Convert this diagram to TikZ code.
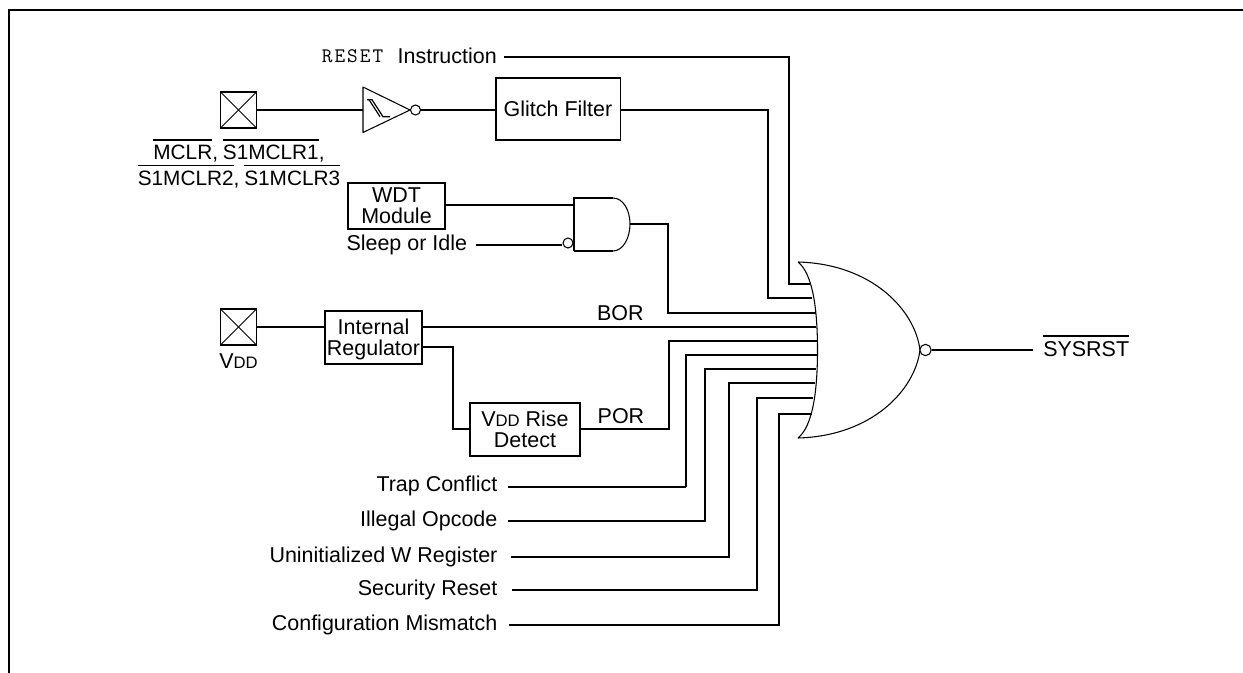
\documentclass[tikz,border=0pt]{standalone}
\usepackage{fontspec}
\setmainfont{Liberation Sans}
\usetikzlibrary{positioning, calc}

\newcommand{\barred}[1]{\vbox{\hrule height 0.9pt\kern 3.6pt\hbox{#1}}}
\newcommand{\vdd}{V{\fontsize{12.5pt}{12.5pt}\selectfont DD}}

\begin{document}
\begin{tikzpicture}[
    x=0.75pt, y=-0.75pt,
    every node/.style={font=\fontsize{16.1pt}{15.75pt}\selectfont, inner sep=0pt},
    wire/.style={line width=1.25pt, line join=miter},
    thinwire/.style={line width=0.9pt},
    gateline/.style={line width=0.8pt, line join=round},
    padbox/.style={draw, line width=1.25pt, minimum size=27pt, path picture={
        \draw[line width=0.6pt] (path picture bounding box.north west) -- (path picture bounding box.south east);
        \draw[line width=0.6pt] (path picture bounding box.north east) -- (path picture bounding box.south west);
    }},
    block/.style={draw, line width=1.25pt, align=center},
    bubble/.style={circle, draw, fill=white, line width=0.8pt, minimum size=7.5pt},
    padtext/.style={font=\fontsize{15.6pt}{15.75pt}\selectfont},
    sidetext/.style={anchor=east}
]
\useasboundingbox (0,0) rectangle (1243,673);

% page frame
\coordinate (frameR) at (1243,10);
\coordinate (frameC) at (8.5,10);
\coordinate (frameB) at (8.5,673);
\draw[line width=1.5pt] (frameR) -- (frameC) -- (frameB);

% pads and blocks
\node[padbox] (mclrpad) at (238.5,110) {};
\node[padbox] (vddpad) at (238.5,327) {};
\node[block, minimum width=93.5pt, minimum height=46.5pt, text depth=0pt] (glitch) at (558,109) {Glitch Filter};
\node[block, minimum width=72.5pt, minimum height=34.5pt] (wdt) at (396.5,206) {WDT\\Module};
\node[block, minimum width=72.5pt, minimum height=39.5pt, text depth=0pt] (regulator) at (373.5,337.5) {Internal\\Regulator};
\node[block, minimum width=82.5pt, minimum height=39.5pt] (rise) at (525,429.5) {\vdd{} Rise\\Detect};

% pad labels
\node[padtext] (mclrA) at (239,151) {\barred{MCLR},\hspace{-0.75pt} \barred{S1MCLR1},};
\node[padtext] (mclrB) at (239,176.5) {\barred{S1MCLR2},\hspace{-0.75pt} \barred{S1MCLR3}};
\node[below=5.5pt of vddpad] (vddtext) {\vdd};

% schmitt inverter
\coordinate (invA) at (363,87);
\coordinate (invB) at (363,132.5);
\coordinate (invC) at (410,110);
\coordinate (invin) at (363,110);
\draw[gateline] (invA) -- (invC) -- (invB) -- cycle;
\node[bubble] (invbub) at (415.5,110) {};
\draw[line width=0.9pt] (367,99.7) -- (372,99.7) -- (383,116.7) -- (390,116.7);
\draw[line width=0.9pt] (369,99.7) -- (380,116.7);

% and gate
\coordinate (andA) at (574,198);
\coordinate (andB) at (574,251);
\coordinate (andC) at (630,224);
\coordinate (andin) at (574,205);
\draw[wire] (andB) -- (574,198) -- (613,198);
\draw[wire] (574,251) -- (613,251);
\draw[gateline] (613,198) .. controls (623,198) and (630,210) .. (andC) .. controls (630,238) and (623,251) .. (613,251);
\node[bubble] (andbub) at (568,243) {};

% or gate
\coordinate (orA) at (798,262);
\coordinate (orB) at (798,438);
\coordinate (orC) at (920,350);
\draw[gateline] (orA) .. controls (872,264) and (915,310) .. (orC)
    .. controls (915,390) and (872,436) .. (orB)
    .. controls (813,426) and (817.5,390) .. (817.5,350)
    .. controls (817.5,310) and (813,274) .. (orA);
\node[bubble, minimum size=8.5pt] (orbub) at (925.5,350) {};

% or gate inputs
\coordinate (in1) at (810,284);
\coordinate (in2) at (812,298);
\coordinate (in3) at (816,313);
\coordinate (in4) at (816,327);
\coordinate (in5) at (818,341);
\coordinate (in6) at (817,355);
\coordinate (in7) at (816,369);
\coordinate (in8) at (815,383);
\coordinate (in9) at (813,398);
\coordinate (in10) at (812,414);

% side labels
\coordinate (rststart) at (504,57);
\node[sidetext, left=5.25pt of rststart, yshift=0.75pt] (rsttext) {Instruction};
\node[sidetext, left=10.5pt of rsttext, font=\fontsize{15.5pt}{15.75pt}\ttfamily] (rstname) {R\kern1.5pt E\kern1.5pt S\kern1.5pt E\kern1.5pt T};
\coordinate (sleepstart) at (476,245);
\node[sidetext, left=6.5pt of sleepstart] (sleep) {Sleep or Idle};
\coordinate (trapstart) at (508,487);
\coordinate (trapturn) at (686,487);
\node[sidetext, left=7.75pt of trapstart, yshift=0.75pt] (trap) {Trap Conflict};
\coordinate (opstart) at (508,521);
\node[sidetext, left=7.75pt of opstart] (opcode) {Illegal Opcode};
\coordinate (uninitstart) at (511,557);
\node[sidetext, left=10pt of uninitstart] (uninit) {Uninitialized W Register};
\coordinate (secstart) at (512,590);
\node[sidetext, left=10.75pt of secstart] (security) {Security Reset};
\coordinate (cfgstart) at (509,625);
\node[sidetext, left=8.5pt of cfgstart] (config) {Configuration Mismatch};

% connectors
\draw[wire] (rststart) -| (789,284) -- (in1);
\draw[wire] (mclrpad) -- (invin);
\draw[wire] (invbub) -- (invbub -| glitch.west);
\draw[wire] (glitch.east |- 0,110) -| (768,298) -- (in2);
\draw[wire] (wdt.east |- andin) -- (andin);
\draw[wire] (sleepstart) -- (andbub.west |- sleepstart);
\draw[wire] (andC) -| (668,313) -- (in3);
\draw[wire] (vddpad) -- (regulator.west |- vddpad);
\draw[wire] (regulator.east |- in4) -- node[pos=0.5, above=4.25pt, xshift=0.75pt] (bor) {BOR} (in4);
\draw[wire] (regulator.east |- 0,347) -| (453,429) -- (rise.west |- 0,429);
\draw[wire] (rise.east |- 0,429) -- node[above=3.5pt, pos=0.455] (por) {POR} (669,429) |- (in5);
\draw[thinwire] (trapstart) -- (trapturn);
\draw[wire] (trapturn) |- (in6);
\draw[wire] (opstart) -| (705,369) -- (in7);
\draw[wire] (uninitstart) -| (729,383) -- (in8);
\draw[wire] (secstart) -| (757,398) -- (in9);
\draw[wire] (cfgstart) -| (779,414) -- (in10);
\draw[wire] (orbub) -- (1033,350) coordinate (outend);
\node[right=7.5pt of outend, yshift=3pt] (sysrst) {\barred{SYSRST}};

\end{tikzpicture}
\end{document}
